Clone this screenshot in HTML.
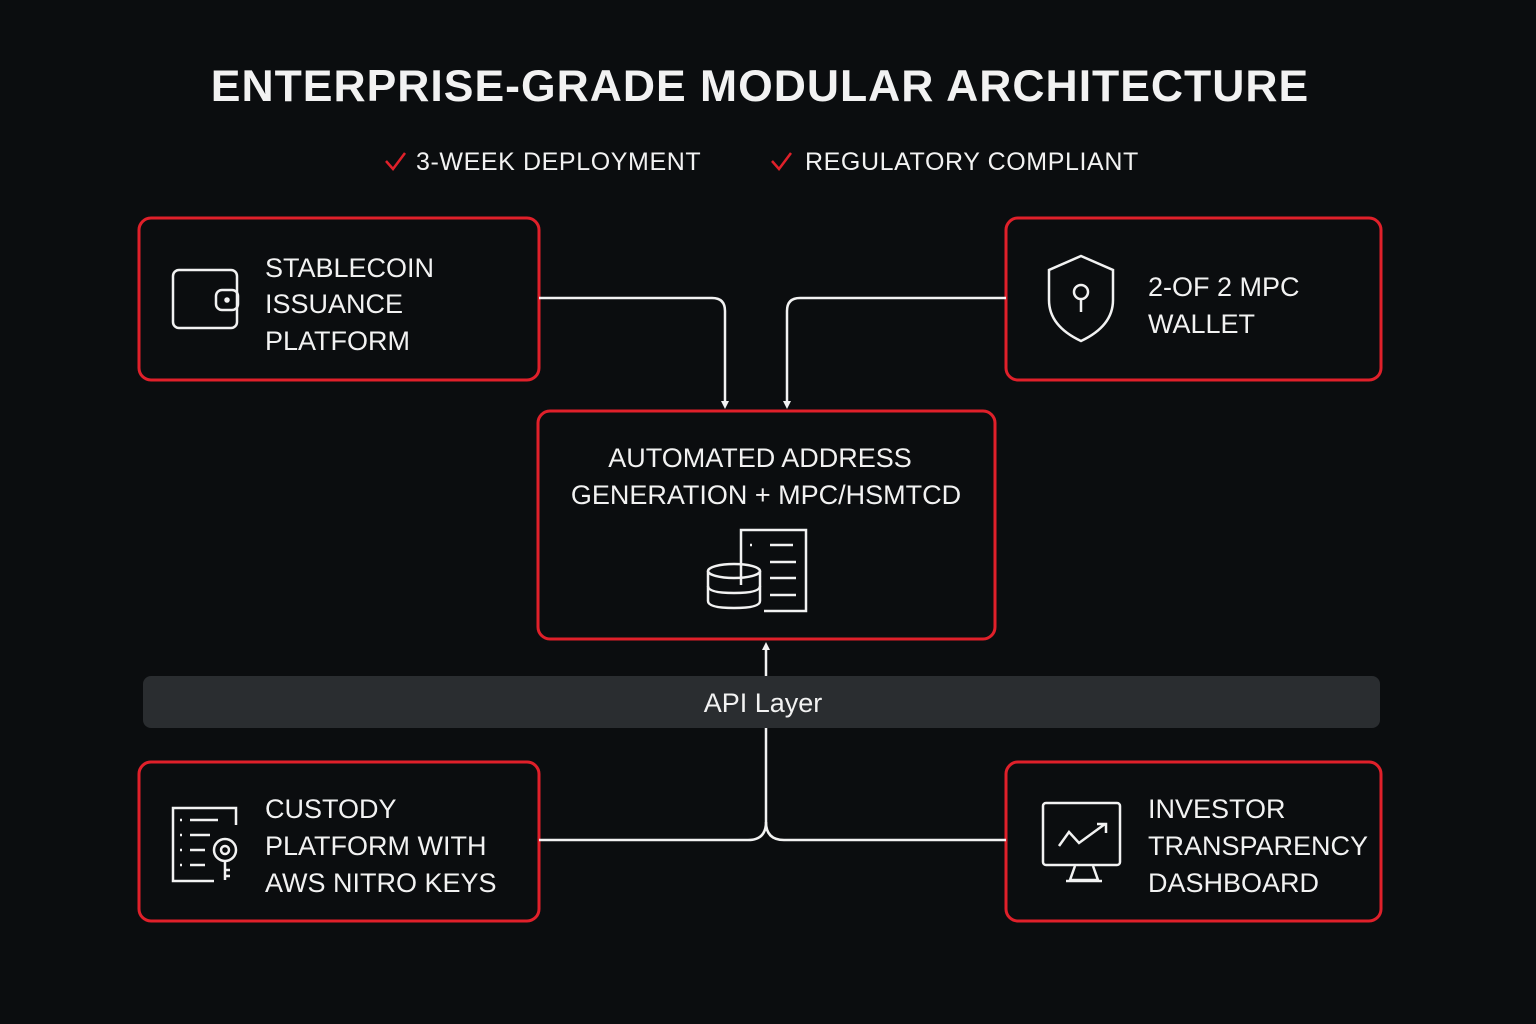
<!DOCTYPE html>
<html><head><meta charset="utf-8"><style>
html,body{margin:0;padding:0;background:#0b0d0f;}
svg{display:block;}
text{font-family:"Liberation Sans",sans-serif;fill:#f2f2f2;}
</style></head><body>
<svg width="1536" height="1024" viewBox="0 0 1536 1024">
<rect width="1536" height="1024" fill="#0b0d0f"/>
<text x="760" y="101" text-anchor="middle" font-size="44.5" font-weight="bold" letter-spacing="1">ENTERPRISE-GRADE MODULAR ARCHITECTURE</text>
<path d="M386 161 l7 8 l12 -16" stroke="#e0202a" stroke-width="2.5" fill="none"/>
<text x="416" y="170" font-size="25" letter-spacing="0.6">3-WEEK DEPLOYMENT</text>
<path d="M772 161 l7 8 l12 -16" stroke="#e0202a" stroke-width="2.5" fill="none"/>
<text x="805" y="170" font-size="25" letter-spacing="0.6">REGULATORY COMPLIANT</text>

<g fill="#0b0d0f" stroke="#e0202a" stroke-width="3">
<rect x="139" y="218" width="400" height="162" rx="12"/>
<rect x="1006" y="218" width="375" height="162" rx="12"/>
<rect x="538" y="411" width="457" height="228" rx="12"/>
<rect x="139" y="762" width="400" height="159" rx="12"/>
<rect x="1006" y="762" width="375" height="159" rx="12"/>
</g>
<rect x="143" y="676" width="1237" height="52" rx="8" fill="#2a2d30"/>
<text x="763" y="712" text-anchor="middle" font-size="27">API Layer</text>

<g stroke="#f2f2f2" stroke-width="2.5" fill="none">
<path d="M539 298 H712 Q725 298 725 311 V403"/>
<path d="M1006 298 H800 Q787 298 787 311 V403"/>
<path d="M766 676 V648"/>
<path d="M766 728 V822 Q766 840 748 840 H539"/>
<path d="M766 822 Q766 840 784 840 H1006"/>
</g>
<g fill="#f2f2f2">
<path d="M721 401 L729 401 L725 409 Z"/>
<path d="M783 401 L791 401 L787 409 Z"/>
<path d="M762 650 L770 650 L766 642 Z"/>
</g>

<g stroke="#f2f2f2" stroke-width="2.5" fill="none">
<rect x="173" y="270" width="64" height="58" rx="6"/>
<rect x="216" y="290" width="22" height="20" rx="6"/>
<circle cx="227" cy="300" r="1.5" fill="#f2f2f2"/>
<path d="M1081 256 L1113 270 V300 Q1113 326 1081 341 Q1049 326 1049 300 V270 Z"/>
<circle cx="1081" cy="292" r="7"/>
<path d="M1081 299 V312"/>
<path d="M741 585 V530 H806 V611 H764"/>
<path d="M750 545 h2 M770 545 h23 M770 562 h26 M770 578 h26 M770 595 h26"/>
<ellipse cx="734" cy="571" rx="26" ry="7"/>
<path d="M708 571 V601 Q708 608 734 608 Q760 608 760 601 V571"/>
<path d="M708 586 Q708 593 734 593 Q760 593 760 586"/>
<path d="M214 881 H173 V808 H236 V825"/>
<path d="M180 820 h2 M190 820 h28 M180 835 h2 M190 835 h20 M180 850 h2 M190 850 h15 M180 865 h2 M190 865 h15"/>
<circle cx="225" cy="850" r="11"/>
<circle cx="225" cy="850" r="4"/>
<path d="M225 861 V880 M225 870 h5 M225 876 h5"/>
<rect x="1043" y="803" width="77" height="62" rx="3"/>
<path d="M1075 866 L1070 880 H1098 L1093 866 M1066 881 h36"/>
<path d="M1059 846 L1069 832 L1079 843 L1105 824 M1097 824 H1106 V833"/>
</g>

<g font-size="27">
<text x="265" y="277">STABLECOIN</text>
<text x="265" y="313">ISSUANCE</text>
<text x="265" y="350">PLATFORM</text>
<text x="1148" y="296">2-OF 2 MPC</text>
<text x="1148" y="333">WALLET</text>
<text x="760" y="467" text-anchor="middle">AUTOMATED ADDRESS</text>
<text x="766" y="504" text-anchor="middle">GENERATION + MPC/HSMTCD</text>
<text x="265" y="818">CUSTODY</text>
<text x="265" y="855">PLATFORM WITH</text>
<text x="265" y="892">AWS NITRO KEYS</text>
<text x="1148" y="818">INVESTOR</text>
<text x="1148" y="855">TRANSPARENCY</text>
<text x="1148" y="892">DASHBOARD</text>
</g>
</svg>
</body></html>
